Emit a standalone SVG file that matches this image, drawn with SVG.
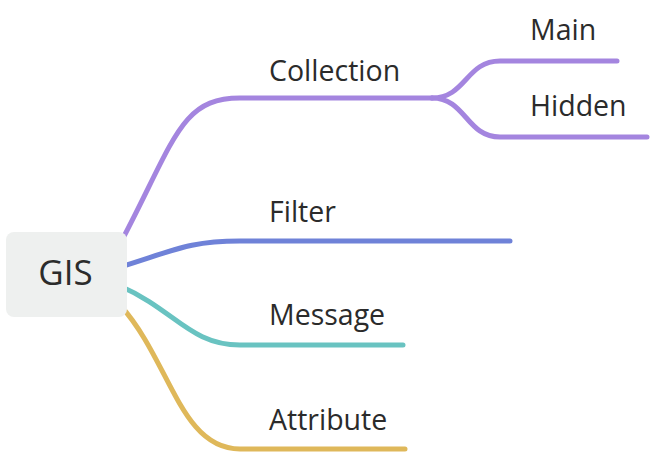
<svg xmlns="http://www.w3.org/2000/svg" width="650" height="454" viewBox="0 0 650 454">
<style>
.l{fill:none;stroke-width:5;stroke-linecap:round}
.t{font-family:"Open Sans","Noto Sans",sans-serif;font-size:28.5px;fill:#2b2b2b}
.p{stroke:#a485df}.b{stroke:#6f82d8}.g{stroke:#69c3c1}.y{stroke:#dfb85a}
</style>
<rect width="650" height="454" fill="#fff"/>
<g id="connectors">
<path class="l p" d="M120 244 C175 140 180 98 240 98 L432 98"/>
<path class="l p" d="M432 98 C466 98 466 61 500 61 L617 61"/>
<path class="l p" d="M432 98 C466 98 466 137 500 137 L647 137"/>
<path class="l b" d="M120 267 C175 250 190 241 240 241 L510 241"/>
<path class="l g" d="M120 286 C175 310 190 345 240 345 L403 345"/>
<path class="l y" d="M120 305 C170 360 180 449 240 449 L405 449"/>
</g>
<g id="gis">
<rect x="6" y="232" width="121" height="85" rx="8" fill="#eef0ef"/>
<text x="65.5" y="285" text-anchor="middle" style="font-family:'Open Sans','Noto Sans',sans-serif;font-size:35px;fill:#2b2b2b">GIS</text>
</g>
<g id="collection"><text class="t" x="269" y="81">Collection</text></g>
<g id="main"><text class="t" x="530" y="40">Main</text></g>
<g id="hidden"><text class="t" x="530" y="116">Hidden</text></g>
<g id="filter"><text class="t" x="269" y="222">Filter</text></g>
<g id="message"><text class="t" x="269" y="325">Message</text></g>
<g id="attribute"><text class="t" x="269" y="430">Attribute</text></g>
</svg>
